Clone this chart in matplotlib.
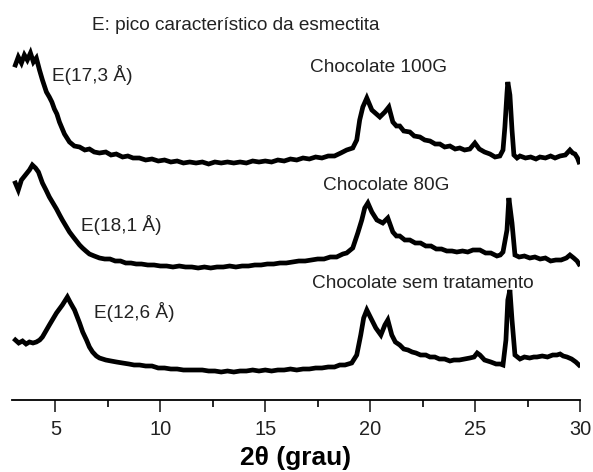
import matplotlib
matplotlib.use("Agg")
import matplotlib.pyplot as plt
from matplotlib.ticker import MultipleLocator

plt.rcParams['font.family'] = ['Liberation Sans', 'DejaVu Sans']

# 2theta (grau) and intensity (a.u.)
tt_100g = [3.09, 3.23, 3.38, 3.52, 3.66, 3.81, 3.95, 4.09, 4.24, 4.38, 4.57, 4.71,
           4.83, 4.95, 5.07, 5.19, 5.31, 5.43, 5.55, 5.67, 5.90, 6.15, 6.40, 6.62,
           6.85, 7.10, 7.40, 7.65, 7.90, 8.20, 8.45, 8.70, 9.00, 9.30, 9.60, 9.90,
           10.2, 10.5, 10.8, 11.1, 11.4, 11.7, 12.0, 12.3, 12.6, 12.9, 13.2, 13.5,
           13.8, 14.1, 14.4, 14.7, 15.0, 15.3, 15.6, 15.9, 16.2, 16.5, 16.8, 17.1,
           17.4, 17.7, 18.0, 18.3, 18.6, 18.88, 19.17, 19.36, 19.50, 19.65, 19.84, 20.08,
           20.46, 20.70, 20.89, 21.08, 21.25, 21.41, 21.60, 21.89, 22.10, 22.37, 22.60, 22.85,
           23.10, 23.32, 23.55, 23.80, 24.05, 24.27, 24.50, 24.75, 24.99, 25.20, 25.45, 25.71,
           25.95, 26.18, 26.33, 26.42, 26.52, 26.56, 26.66, 26.76, 26.85, 27.00, 27.14, 27.40,
           27.65, 27.90, 28.09, 28.35, 28.60, 28.81, 29.05, 29.30, 29.52, 29.65, 29.76, 29.88,
           29.95]
i_100g = [333, 341, 335, 343, 338, 345, 336, 340, 328, 318, 306, 301,
          296, 289, 284, 276, 270, 264, 260, 256, 252, 251, 248, 249,
          246, 245, 246, 243, 244, 241, 242, 240, 240, 238, 239, 237,
          238, 236, 237, 235, 236, 235, 236, 234, 236, 235, 236, 235,
          236, 235, 237, 236, 237, 236, 238, 237, 239, 238, 240, 239,
          241, 240, 242, 242, 245, 248, 250, 258, 278, 291, 300, 288,
          281, 286, 291, 276, 272, 272, 267, 266, 262, 261, 258, 257,
          254, 254, 251, 252, 249, 250, 248, 249, 255, 249, 246, 244,
          241, 242, 248, 271, 305, 316, 303, 268, 243, 240, 242, 240,
          241, 239, 241, 240, 242, 240, 242, 243, 248, 245, 244, 240,
          236]

tt_80g = [3.09, 3.23, 3.38, 3.57, 3.76, 3.90, 4.05, 4.19, 4.38, 4.55, 4.71, 4.88,
          5.05, 5.20, 5.33, 5.50, 5.67, 5.85, 6.00, 6.15, 6.29, 6.45, 6.62, 6.85,
          7.10, 7.35, 7.60, 7.85, 8.10, 8.35, 8.60, 8.85, 9.10, 9.40, 9.70, 10.0,
          10.3, 10.6, 10.9, 11.2, 11.5, 11.8, 12.1, 12.4, 12.7, 13.0, 13.3, 13.6,
          13.9, 14.2, 14.5, 14.8, 15.1, 15.4, 15.7, 16.0, 16.3, 16.6, 16.9, 17.2,
          17.5, 17.8, 18.1, 18.4, 18.7, 18.88, 19.17, 19.41, 19.60, 19.74, 19.89, 20.08,
          20.32, 20.60, 20.84, 21.08, 21.25, 21.41, 21.65, 21.89, 22.15, 22.40, 22.65, 22.90,
          23.15, 23.40, 23.65, 23.90, 24.13, 24.40, 24.65, 24.90, 25.23, 25.50, 25.75, 26.04,
          26.20, 26.33, 26.52, 26.61, 26.76, 26.90, 27.10, 27.35, 27.61, 27.85, 28.10, 28.35,
          28.60, 28.85, 29.10, 29.35, 29.52, 29.70, 29.86, 29.95]
i_80g = [215, 208, 218, 223, 228, 233, 230, 226, 215, 208, 201, 195,
         189, 183, 178, 172, 166, 161, 157, 153, 150, 147, 144, 142,
         140, 139, 139, 137, 137, 135, 135, 134, 134, 133, 133, 132,
         132, 131, 132, 131, 131, 130, 131, 130, 131, 131, 132, 131,
         132, 132, 133, 133, 134, 134, 135, 135, 136, 137, 137, 138,
         139, 139, 141, 141, 144, 145, 150, 165, 178, 190, 195, 186,
         178, 175, 180, 166, 162, 162, 158, 158, 155, 155, 152, 152,
         149, 149, 147, 147, 146, 147, 146, 148, 148, 145, 145, 142,
         143, 146, 168, 200, 175, 143, 141, 142, 140, 141, 139, 140,
         137, 138, 138, 140, 143, 140, 137, 134]

tt_sem = [3.09, 3.25, 3.43, 3.60, 3.76, 3.93, 4.09, 4.25, 4.38, 4.71, 5.05, 5.33,
          5.57, 5.72, 5.91, 6.15, 6.30, 6.48, 6.62, 6.77, 6.95, 7.10, 7.40, 7.65,
          7.91, 8.20, 8.50, 8.75, 9.01, 9.30, 9.60, 9.90, 10.2, 10.5, 10.8, 11.1,
          11.4, 11.73, 12.0, 12.3, 12.6, 12.9, 13.2, 13.5, 13.8, 14.1, 14.4, 14.7,
          15.0, 15.3, 15.6, 15.9, 16.2, 16.5, 16.8, 17.1, 17.4, 17.7, 18.0, 18.3,
          18.55, 18.8, 19.12, 19.36, 19.55, 19.69, 19.84, 20.03, 20.27, 20.51, 20.70, 20.84,
          21.03, 21.20, 21.41, 21.60, 21.80, 22.00, 22.18, 22.40, 22.65, 22.85, 23.08, 23.30,
          23.55, 23.80, 23.99, 24.25, 24.50, 24.75, 24.95, 25.10, 25.23, 25.45, 25.75, 26.00,
          26.20, 26.33, 26.47, 26.56, 26.66, 26.76, 26.90, 27.14, 27.35, 27.60, 27.80, 27.95,
          28.20, 28.45, 28.70, 28.90, 29.05, 29.20, 29.38, 29.60, 29.80, 29.95]
i_sem = [58, 55, 57, 54, 56, 55, 56, 58, 61, 73, 85, 93,
         101, 95, 88, 75, 66, 58, 51, 46, 42, 40, 38, 37,
         36, 35, 34, 33, 33, 32, 32, 30, 30, 29, 29, 28,
         28, 28, 28, 27, 27, 26, 27, 26, 27, 27, 28, 27,
         28, 27, 28, 28, 29, 28, 29, 29, 30, 30, 31, 31,
         33, 33, 35, 43, 63, 80, 88, 80, 70, 63, 73, 78,
         63, 56, 53, 49, 48, 46, 45, 43, 43, 41, 41, 39,
         39, 37, 38, 38, 39, 40, 41, 45, 43, 38, 36, 34,
         34, 33, 58, 98, 108, 78, 43, 39, 41, 40, 41, 41,
         42, 41, 43, 43, 44, 42, 41, 39, 36, 33]

fig = plt.figure(figsize=(5.93, 4.72), dpi=100)
ax = fig.add_axes([12 / 593, 72 / 472, 568 / 593, 400 / 472])

for tt, ii in [(tt_100g, i_100g), (tt_80g, i_80g), (tt_sem, i_sem)]:
    ax.plot(tt, ii, color='black', lw=3.4, solid_joinstyle='miter')

ax.set_xlim(2.93, 30)
ax.set_ylim(-2, 398)

for s in ['left', 'right', 'top']:
    ax.spines[s].set_visible(False)
ax.spines['bottom'].set_linewidth(1.3)
ax.set_yticks([])
ax.xaxis.set_major_locator(MultipleLocator(5))
ax.xaxis.set_minor_locator(MultipleLocator(2.5))
ax.tick_params(axis='x', which='major', direction='out', length=8.5, width=1.2,
               labelsize=14.4, pad=6, colors='#222222')
ax.tick_params(axis='x', which='minor', direction='out', length=5, width=1.2)
ax.set_xlabel('2θ (grau)', fontsize=19, fontweight='bold', labelpad=5)

fs = 13.7
ax.text(6.72, 373, 'E: pico característico da esmectita', fontsize=fs, va='center', color='#222222')
ax.text(4.86, 323, 'E(17,3 Å)', fontsize=fs, va='center', color='#222222')
ax.text(6.24, 173, 'E(18,1 Å)', fontsize=fs, va='center', color='#222222')
ax.text(6.86, 86, 'E(12,6 Å)', fontsize=fs, va='center', color='#222222')
ax.text(17.12, 331, 'Chocolate 100G', fontsize=fs, va='center', color='#222222')
ax.text(17.74, 213, 'Chocolate 80G', fontsize=fs, va='center', color='#222222')
ax.text(17.21, 115, 'Chocolate sem tratamento', fontsize=fs, va='center', color='#222222')

fig.savefig('out.png', dpi=100)
